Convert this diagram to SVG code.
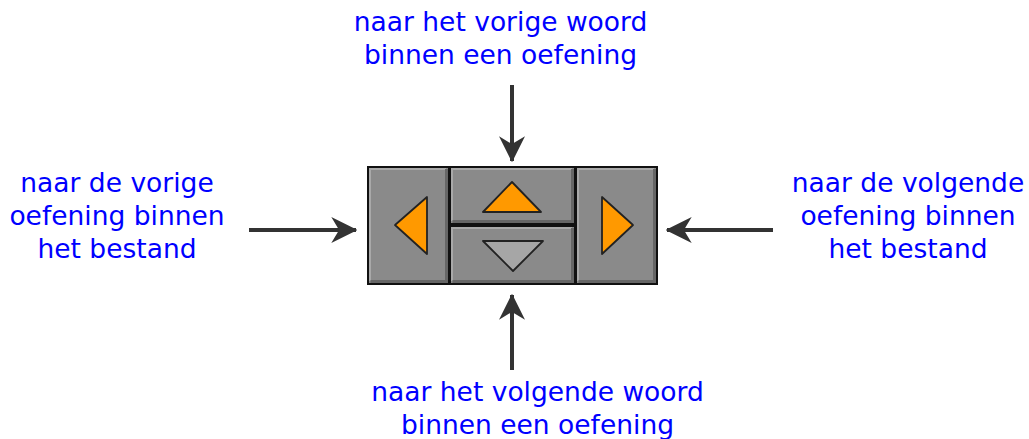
<svg xmlns="http://www.w3.org/2000/svg" width="1029" height="439" viewBox="0 0 1029 439">
<style>
.t{font-family:"DejaVu Sans",Verdana,sans-serif;font-size:26.5px;fill:#0000ff;text-anchor:middle}
.btn{fill:#8a8a8a;stroke:#111;stroke-width:2}
.hl{fill:none;stroke:#a9a9a9;stroke-width:2}
.sh{fill:none;stroke:#666;stroke-width:3}
.tri{fill:#ff9900;stroke:#222;stroke-width:1.8;stroke-linejoin:round}
.tri2{fill:#a6a6a6;stroke:#222;stroke-width:1.8;stroke-linejoin:round}
.c{stroke:#333;stroke-width:4;fill:none}
</style>
<defs>
<marker id="ah" viewBox="0 0 10 10" refX="9.5" refY="5" markerWidth="6.5" markerHeight="6.5" markerUnits="strokeWidth" orient="auto">
<path d="M0,0 L10,5 L0,10 L3,5 Z" fill="#333"/>
</marker>
</defs>
<g id="widget">
<rect x="367" y="166" width="291" height="119" fill="#111"/>
<g id="btn-left">
<rect class="btn" x="368" y="167" width="81" height="117"/>
<path class="hl" d="M370,281 V169 H446"/>
<path class="sh" d="M370.5,281.5 H446.5 V169"/>
<polygon class="tri" points="395,225 427,197 427,254"/>
</g>
<g id="btn-up">
<rect class="btn" x="450" y="167" width="125" height="57"/>
<path class="hl" d="M452,221 V169 H572"/>
<path class="sh" d="M452.5,221.5 H572.5 V169"/>
<polygon class="tri" points="512,182 483,212 541,212"/>
</g>
<g id="btn-down">
<rect class="btn" x="450" y="226" width="125" height="58"/>
<path class="hl" d="M452,281 V228 H572"/>
<path class="sh" d="M452.5,281.5 H572.5 V228"/>
<polygon class="tri2" points="483,241 543,241 513,271"/>
</g>
<g id="btn-right">
<rect class="btn" x="576" y="167" width="81" height="117"/>
<path class="hl" d="M578,281 V169 H654"/>
<path class="sh" d="M578.5,281.5 H654.5 V169"/>
<polygon class="tri" points="602,197 602,254 633,225"/>
</g>
</g>
<g id="connectors">
<line class="c" x1="249" y1="230" x2="356" y2="230" marker-end="url(#ah)"/>
<line class="c" x1="512" y1="85" x2="512" y2="161" marker-end="url(#ah)"/>
<line class="c" x1="773" y1="230" x2="667" y2="230" marker-end="url(#ah)"/>
<line class="c" x1="512" y1="370" x2="512" y2="295" marker-end="url(#ah)"/>
</g>
<g id="label-top">
<text class="t" x="500.5" y="31">naar het vorige woord</text>
<text class="t" x="500.5" y="64">binnen een oefening</text>
</g>
<g id="label-left">
<text class="t" x="117" y="192">naar de vorige</text>
<text class="t" x="117" y="225">oefening binnen</text>
<text class="t" x="117" y="258">het bestand</text>
</g>
<g id="label-right">
<text class="t" x="908" y="192">naar de volgende</text>
<text class="t" x="908" y="225">oefening binnen</text>
<text class="t" x="908" y="258">het bestand</text>
</g>
<g id="label-bottom">
<text class="t" x="537.5" y="401">naar het volgende woord</text>
<text class="t" x="537.5" y="434">binnen een oefening</text>
</g>
</svg>
